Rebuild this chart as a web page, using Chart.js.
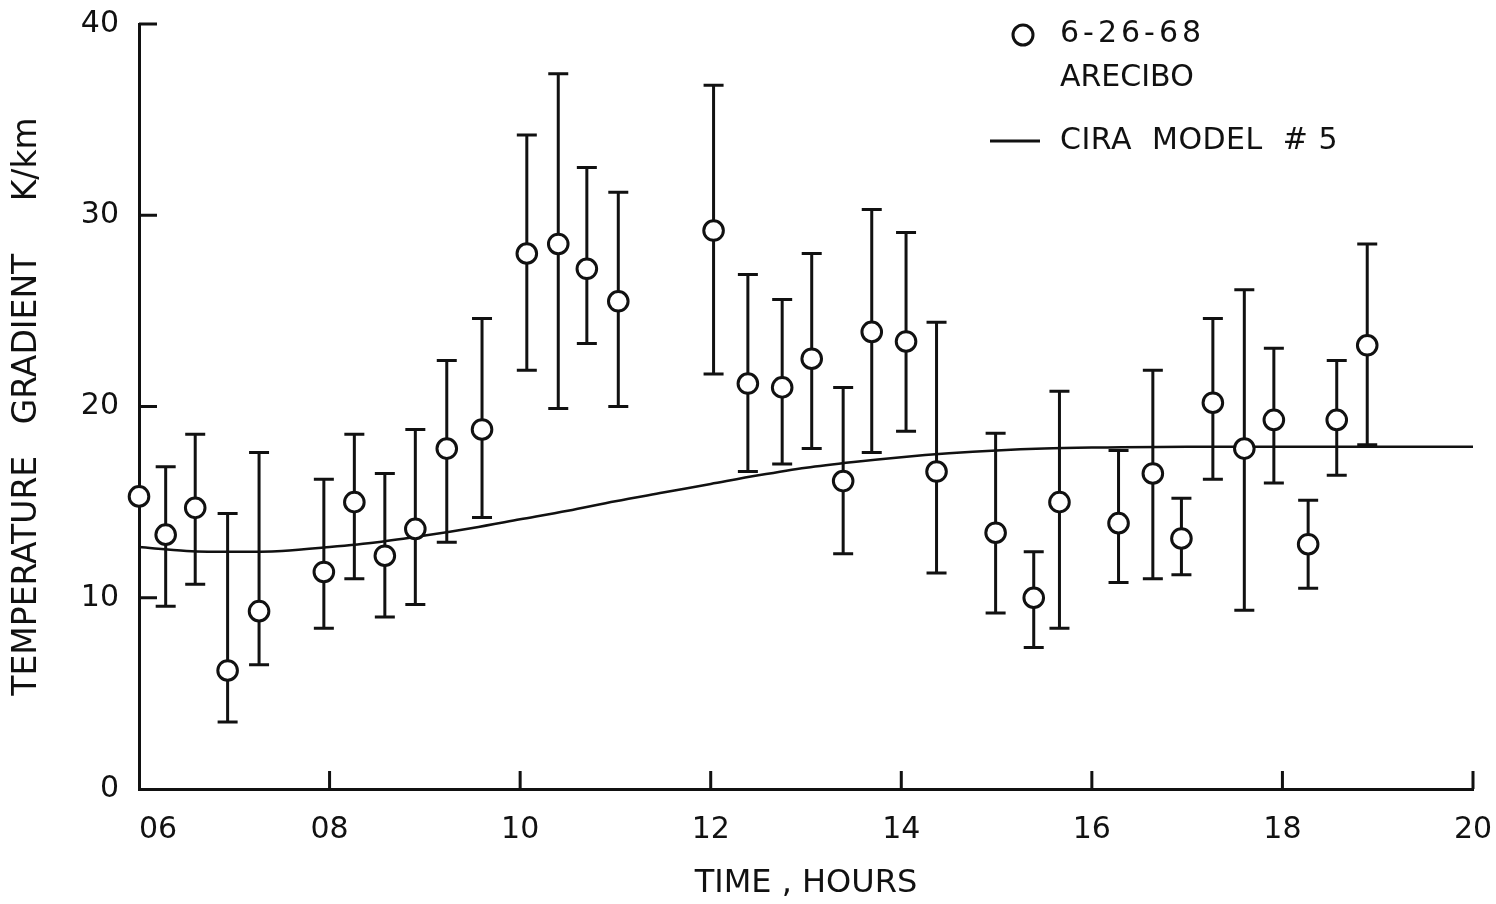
<!DOCTYPE html>
<html>
<head>
<meta charset="utf-8">
<script src="https://cdn.jsdelivr.net/npm/chart.js@4.4.0/dist/chart.umd.min.js"></script>
<style>
  html, body { margin: 0; padding: 0; background: #fff; }
  #wrap { width: 1496px; height: 904px; }
</style>
</head>
<body>
<div id="wrap"><canvas id="gradChart"></canvas></div>
<script>
    // Measured points, 6-26-68 Arecibo
    const hours        = [6.0, 6.28, 6.59, 6.93, 7.26, 7.94, 8.26, 8.58, 8.90, 9.23, 9.60, 10.07, 10.40, 10.70, 11.03, 12.03, 12.39, 12.75, 13.06, 13.39, 13.69, 14.05, 14.37, 14.99, 15.39, 15.66, 16.28, 16.64, 16.94, 17.27, 17.60, 17.91, 18.27, 18.57, 18.89];
    const gradient     = [15.3, 13.3, 14.7, 6.2, 9.3, 11.35, 15.0, 12.2, 13.6, 17.8, 18.8, 28.0, 28.5, 27.2, 25.5, 29.2, 21.2, 21.0, 22.5, 16.1, 23.9, 23.4, 16.6, 13.4, 10.0, 15.0, 13.9, 16.5, 13.1, 20.2, 17.8, 19.3, 12.8, 19.3, 23.2];
    const gradientHigh = [null, 16.85, 18.55, 14.4, 17.6, 16.2, 18.55, 16.5, 18.8, 22.4, 24.6, 34.2, 37.4, 32.5, 31.2, 36.8, 26.9, 25.6, 28.0, 21.0, 30.3, 29.1, 24.4, 18.6, 12.4, 20.8, 17.7, 21.9, 15.2, 24.6, 26.1, 23.05, 15.1, 22.4, 28.5];
    const gradientLow  = [null, 9.55, 10.7, 3.5, 6.5, 8.4, 11.0, 9.0, 9.65, 12.9, 14.2, 21.9, 19.9, 23.3, 20.0, 21.7, 16.6, 17.0, 17.8, 12.3, 17.6, 18.7, 11.3, 9.2, 7.4, 8.4, 10.8, 11.0, 11.2, 16.2, 9.35, 16.0, 10.5, 16.4, 18.0];

    // CIRA model #5 curve
    const modelHours    = [6, 6.5, 7, 7.5, 8, 8.5, 9, 9.5, 10, 10.5, 11, 11.5, 12, 12.5, 13, 13.5, 14, 14.5, 15, 15.5, 16, 17, 18, 19, 20];
    const modelGradient = [12.65, 12.45, 12.4, 12.45, 12.65, 12.9, 13.25, 13.65, 14.1, 14.55, 15.05, 15.5, 15.95, 16.4, 16.8, 17.1, 17.35, 17.55, 17.7, 17.8, 17.85, 17.9, 17.9, 17.9, 17.9];

    const xTickHours = [6, 8, 10, 12, 14, 16, 18, 20];
    const yTickValues = [0, 10, 20, 30, 40];

    const INK = '#111';
    const FONT = '"DejaVu Sans", sans-serif';

    // error bars under the circles
    const errorBars = {
      id: 'errorBars',
      beforeDatasetsDraw(chart) {
        const {ctx, scales: {x, y}} = chart;
        ctx.save();
        ctx.strokeStyle = INK;
        ctx.lineWidth = 3;
        for (let i = 0; i < hours.length; i++) {
          if (gradientHigh[i] == null) continue;
          const px = x.getPixelForValue(hours[i]);
          const top = y.getPixelForValue(gradientHigh[i]);
          const bot = y.getPixelForValue(gradientLow[i]);
          ctx.beginPath();
          ctx.moveTo(px, top); ctx.lineTo(px, bot);
          ctx.moveTo(px - 10, top); ctx.lineTo(px + 10, top);
          ctx.moveTo(px - 10, bot); ctx.lineTo(px + 10, bot);
          ctx.stroke();
        }
        ctx.restore();
      }
    };

    // inward tick marks + the hand drawn legend
    const extras = {
      id: 'extras',
      afterDraw(chart) {
        const {ctx, chartArea: a, scales: {x, y}} = chart;
        ctx.save();
        ctx.strokeStyle = INK;
        ctx.fillStyle = INK;
        ctx.lineWidth = 3;
        ctx.beginPath();
        yTickValues.forEach(v => {
          if (v === 0) return;
          const py = y.getPixelForValue(v);
          ctx.moveTo(a.left, py); ctx.lineTo(a.left + 18, py);
        });
        xTickHours.forEach(v => {
          if (v === 6) return;
          const px = x.getPixelForValue(v);
          ctx.moveTo(px, a.bottom); ctx.lineTo(px, a.bottom - 18);
        });
        ctx.stroke();

        // legend
        const lx = a.right - 413;
        ctx.beginPath();
        ctx.arc(lx - 37, a.top + 11, 10, 0, Math.PI * 2);
        ctx.stroke();
        ctx.beginPath();
        ctx.moveTo(lx - 70, a.top + 117); ctx.lineTo(lx - 20, a.top + 117);
        ctx.stroke();
        ctx.font = '30px ' + FONT;
        ctx.textBaseline = 'middle';
        ctx.textAlign = 'left';
        if ('letterSpacing' in ctx) ctx.letterSpacing = '4px';
        ctx.fillText('6-26-68', lx, a.top + 10);
        if ('letterSpacing' in ctx) ctx.letterSpacing = '0px';
        ctx.fillText('ARECIBO', lx, a.top + 54);
        if ('letterSpacing' in ctx) ctx.letterSpacing = '0.5px';
        ctx.fillText('CIRA  MODEL  # 5', lx, a.top + 117);
        ctx.restore();
      }
    };

    function noPad(scale) {
      scale.paddingTop = 0; scale.paddingBottom = 0;
      scale.paddingLeft = 0; scale.paddingRight = 0;
    }

    const ctxG = document.getElementById('gradChart').getContext('2d');
    new Chart(ctxG, {
      type: 'scatter',
      data: {
        datasets: [{
          label: '6-26-68 ARECIBO',
          data: hours.map((h, i) => ({x: h, y: gradient[i]})),
          pointRadius: 9.8,
          pointBorderWidth: 3,
          pointBackgroundColor: '#fff',
          pointBorderColor: INK,
          showLine: false,
          clip: false,
          order: 0
        }, {
          label: 'CIRA MODEL #5',
          type: 'line',
          data: modelHours.map((h, i) => ({x: h, y: modelGradient[i]})),
          borderColor: INK,
          borderWidth: 2.5,
          pointRadius: 0,
          fill: false,
          cubicInterpolationMode: 'monotone',
          order: 1
        }]
      },
      options: {
        responsive: true,
        maintainAspectRatio: false,
        animation: false,
        layout: { padding: {top: 24, right: 23, left: 0, bottom: 0} },
        plugins: { legend: {display: false}, tooltip: {enabled: false} },
        scales: {
          x: {
            type: 'linear', min: 6, max: 20,
            afterBuildTicks: s => { s.ticks = xTickHours.map(v => ({value: v})); },
            afterFit: s => { s.height = 115; noPad(s); },
            grid: {display: false, drawTicks: false},
            border: {display: true, width: 3, color: INK},
            ticks: {
              color: INK, padding: 23, maxRotation: 0, autoSkip: false,
              font: {family: FONT, size: 30},
              callback: v => v === 6 ? '\u2007\u200706' : (v < 10 ? '0' + v : String(v))
            },
            title: {
              display: true, text: 'TIME , HOURS', color: INK,
              font: {family: FONT, size: 32}, padding: {top: 0, bottom: 1}
            }
          },
          y: {
            type: 'linear', min: 0, max: 40,
            afterBuildTicks: s => { s.ticks = yTickValues.map(v => ({value: v})); },
            afterFit: s => { s.width = 139; noPad(s); },
            grid: {display: false, drawTicks: false},
            border: {display: true, width: 3, color: INK},
            ticks: {color: INK, padding: 20, font: {family: FONT, size: 30}},
            title: {
              display: true, text: 'TEMPERATURE   GRADIENT     K/km', color: INK,
              font: {family: FONT, size: 33}, padding: {top: 8, bottom: 0}
            }
          }
        }
      },
      plugins: [errorBars, extras]
    });
</script>
</body>
</html>
